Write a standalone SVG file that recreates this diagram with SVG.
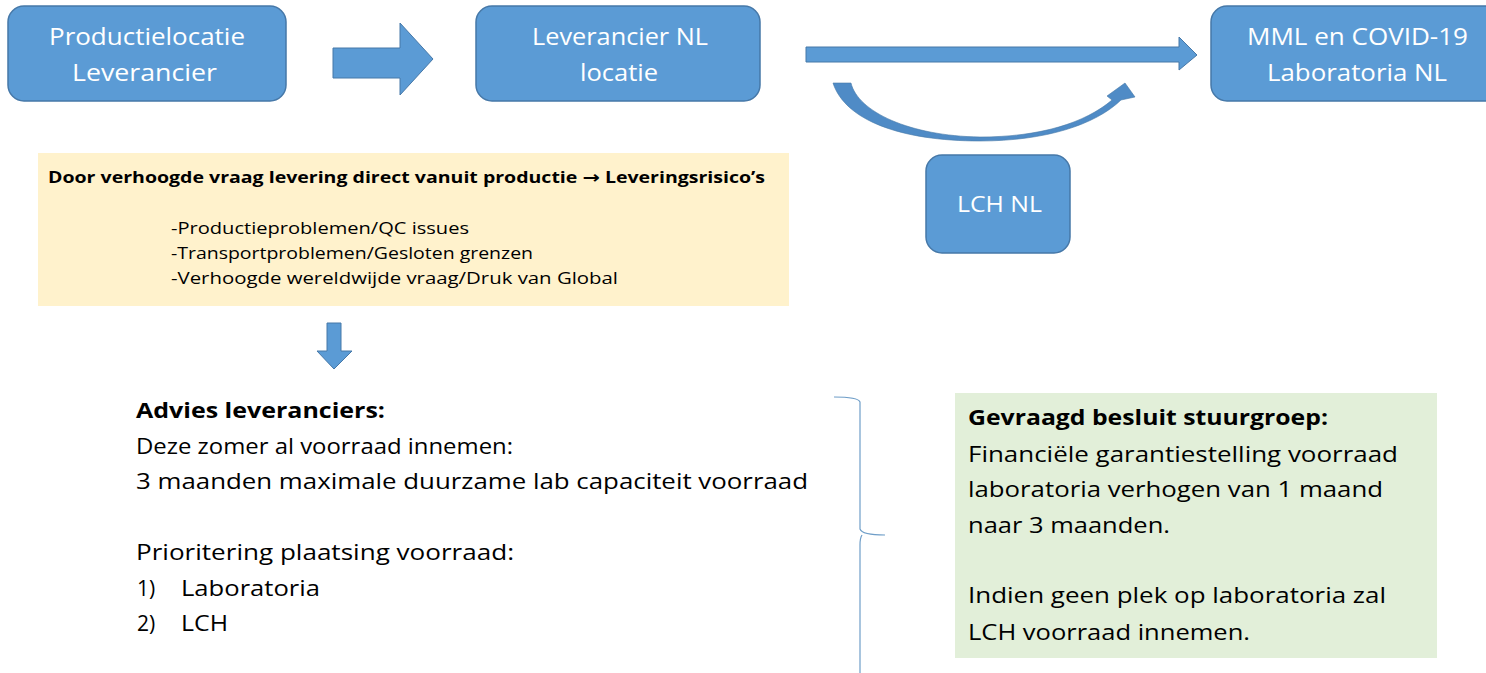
<svg xmlns="http://www.w3.org/2000/svg" width="1486" height="673" viewBox="0 0 1486 673">
<style>
.box{fill:#5b9bd5;stroke:#4678a8;stroke-width:1.5}
.arr{fill:#5b9bd5;stroke:#4678a8;stroke-width:1}
.wt{font-family:"Open Sans","Liberation Sans",sans-serif;fill:#ffffff;font-size:24px}
.bt{font-family:"Open Sans","Liberation Sans",sans-serif;fill:#000000}
.b{font-weight:bold}
</style>
<rect width="1486" height="673" fill="#ffffff"/>
<g id="node-productielocatie">
<rect class="box" x="8" y="6" width="278" height="95" rx="16"/>
<text class="wt" x="49" y="45" textLength="196" lengthAdjust="spacingAndGlyphs">Productielocatie</text>
<text class="wt" x="72" y="81" textLength="145" lengthAdjust="spacingAndGlyphs">Leverancier</text>
</g>
<g id="node-leverancier-nl">
<rect class="box" x="476" y="6" width="284" height="95" rx="16"/>
<text class="wt" x="532" y="45" textLength="176" lengthAdjust="spacingAndGlyphs">Leverancier NL</text>
<text class="wt" x="580" y="81" textLength="78" lengthAdjust="spacingAndGlyphs">locatie</text>
</g>
<g id="node-mml">
<rect class="box" x="1211" y="6" width="290" height="95" rx="16"/>
<text class="wt" x="1247" y="45" textLength="221" lengthAdjust="spacingAndGlyphs">MML en COVID-19</text>
<text class="wt" x="1267" y="81" textLength="180" lengthAdjust="spacingAndGlyphs">Laboratoria NL</text>
</g>
<g id="node-lch">
<rect class="box" x="926" y="155" width="144" height="98" rx="16"/>
<text class="wt" x="957" y="212" textLength="85" lengthAdjust="spacingAndGlyphs" style="font-size:22px">LCH NL</text>
</g>
<g id="node-risico">
<rect x="38" y="153" width="751" height="153" fill="#fff2cc"/>
<text class="bt b" x="48" y="183" font-size="16" textLength="717" lengthAdjust="spacingAndGlyphs">Door verhoogde vraag levering direct vanuit productie <tspan font-family="DejaVu Sans, sans-serif" font-size="17">→</tspan> Leveringsrisico’s</text>
<text class="bt" x="171" y="234" font-size="16" textLength="298" lengthAdjust="spacingAndGlyphs">-Productieproblemen/QC issues</text>
<text class="bt" x="171" y="259" font-size="16" textLength="362" lengthAdjust="spacingAndGlyphs">-Transportproblemen/Gesloten grenzen</text>
<text class="bt" x="171" y="284" font-size="16" textLength="447" lengthAdjust="spacingAndGlyphs">-Verhoogde wereldwijde vraag/Druk van Global</text>
</g>
<g id="node-advies">
<text class="bt b" x="136" y="418" font-size="21" textLength="249" lengthAdjust="spacingAndGlyphs">Advies leveranciers:</text>
<text class="bt" x="136" y="454" font-size="21" textLength="377" lengthAdjust="spacingAndGlyphs">Deze zomer al voorraad innemen:</text>
<text class="bt" x="136" y="489" font-size="21" textLength="672" lengthAdjust="spacingAndGlyphs">3 maanden maximale duurzame lab capaciteit voorraad</text>
<text class="bt" x="136" y="560" font-size="21" textLength="378" lengthAdjust="spacingAndGlyphs">Prioritering plaatsing voorraad:</text>
<text class="bt" x="137" y="596" font-size="21">1)</text>
<text class="bt" x="181" y="596" font-size="21" textLength="139" lengthAdjust="spacingAndGlyphs">Laboratoria</text>
<text class="bt" x="137" y="631" font-size="21">2)</text>
<text class="bt" x="181" y="631" font-size="21" textLength="47" lengthAdjust="spacingAndGlyphs">LCH</text>
</g>
<g id="node-besluit">
<rect x="955" y="393" width="482" height="265" fill="#e2efd9"/>
<text class="bt b" x="968" y="425" font-size="21" textLength="360" lengthAdjust="spacingAndGlyphs">Gevraagd besluit stuurgroep:</text>
<text class="bt" x="968" y="462" font-size="21" textLength="430" lengthAdjust="spacingAndGlyphs">Financiële garantiestelling voorraad</text>
<text class="bt" x="968" y="497" font-size="21" textLength="415" lengthAdjust="spacingAndGlyphs">laboratoria verhogen van 1 maand</text>
<text class="bt" x="968" y="533" font-size="21" textLength="202" lengthAdjust="spacingAndGlyphs">naar 3 maanden.</text>
<text class="bt" x="968" y="603" font-size="21" textLength="418" lengthAdjust="spacingAndGlyphs">Indien geen plek op laboratoria zal</text>
<text class="bt" x="968" y="640" font-size="21" textLength="282" lengthAdjust="spacingAndGlyphs">LCH voorraad innemen.</text>
</g>
<g id="connectors">
<path class="arr" d="M333 48 L400 48 L400 23 L433 59 L400 95 L400 78 L333 78 Z"/>
<path class="arr" d="M806 47 L1179 47 L1179 37 L1197 55 L1179 70 L1179 62 L806 62 Z"/>
<path fill="#4f8bc6" stroke="#4678a8" stroke-width="0.6" d="M833 83 L851 83 C858 112 910 136 980 137 C1040 137 1085 123 1112 100 L1107 96 L1125 83 L1135 97 L1121 100 C1095 125 1045 141 980 141 C900 141 845 120 833 83 Z"/>
<path class="arr" d="M327 323 L341 323 L341 351 L352 351 L334 369 L317 351 L327 351 Z"/>
<path fill="none" stroke="#6f9ec8" stroke-width="1.2" d="M834 397 Q858 397 860 402 L860 529 Q862 535 885 535 M862 535 Q860 538 860 545 L860 673"/>
</g>
</svg>
